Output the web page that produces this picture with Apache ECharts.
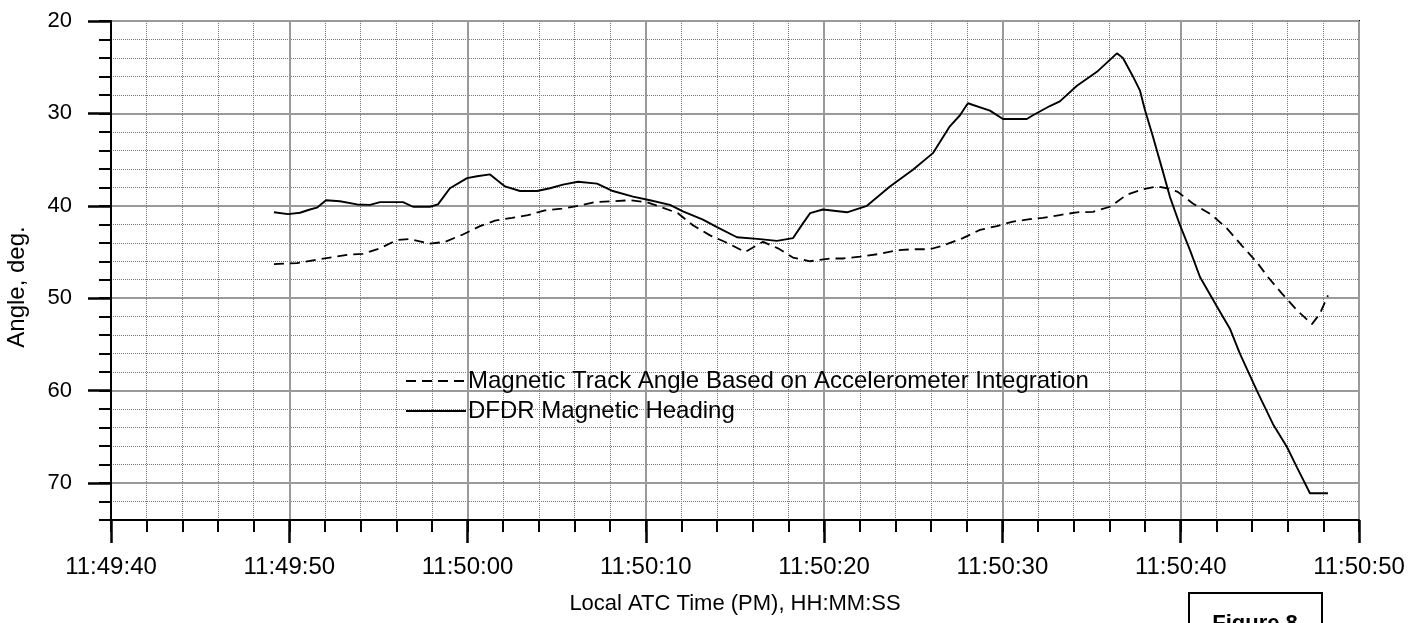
<!DOCTYPE html>
<html>
<head>
<meta charset="utf-8">
<title>Figure 8</title>
<script src="https://cdn.jsdelivr.net/npm/echarts@6/dist/echarts.min.js"></script>
<style>
  html, body { margin: 0; padding: 0; background: #fff; }
  #chart { width: 1426px; height: 623px; }
</style>
</head>
<body>
<div id="chart"></div>
<script>
// Tick labels
const xTickLabels = ['11:49:40', '11:49:50', '11:50:00', '11:50:10', '11:50:20', '11:50:30', '11:50:40', '11:50:50'];
const yTickValues = [20, 30, 40, 50, 60, 70];

const seriesNames = [
  'Magnetic Track Angle Based on Accelerometer Integration',
  'DFDR Magnetic Heading'
];

// Time is seconds after 11:49:40 local ATC time; angles in degrees
const trackTime = [9.14, 10.43, 11.33, 12.28, 13.24, 14.13, 15.09, 16.04, 16.77, 17.89, 18.73, 19.74, 20.7, 21.54,
  22.49, 23.39, 24.34, 25.29, 26.19, 27.15, 28.15, 29.11, 30.06, 30.79, 31.8, 32.64, 33.6, 34.55, 35.56, 36.57,
  37.41, 38.25, 39.21, 40.33, 41.05, 42.01, 43.13, 44.08, 44.98, 45.93, 46.66, 47.78, 48.74, 49.69, 50.59, 51.54,
  52.27, 53.22, 54.18, 55.08, 56.03, 56.98, 57.88, 58.67, 59.23, 59.84, 60.68, 61.75, 62.59, 63.43, 64.27, 64.89,
  65.68, 66.52, 67.36, 67.8, 68.26];
const trackDeg = [46.3, 46.2, 45.9, 45.6, 45.3, 45.2, 44.6, 43.7, 43.6, 44.1, 43.9, 43.1, 42.2, 41.6,
  41.3, 41.0, 40.5, 40.3, 40.0, 39.6, 39.5, 39.4, 39.6, 40.1, 40.8, 42.1, 43.2, 44.0, 45.0, 43.9,
  44.6, 45.6, 46.0, 45.7, 45.7, 45.5, 45.2, 44.8, 44.7, 44.7, 44.3, 43.5, 42.6, 42.2, 41.7, 41.45,
  41.3, 41.0, 40.7, 40.65, 40.1, 38.8, 38.2, 37.9, 38.1, 38.5, 39.75, 41.0, 42.45, 44.3, 46.1, 47.7,
  49.5, 51.3, 52.8, 51.7, 49.7];

const headingTime = [9.14, 9.93, 10.6, 11.16, 11.55, 12.06, 12.84, 13.8, 14.53, 15.09, 16.38, 16.94, 17.89, 18.34,
  19.01, 19.97, 20.53, 21.26, 22.1, 22.94, 23.9, 24.62, 25.35, 26.19, 27.26, 28.15, 29.28, 30.23, 31.35, 32.08,
  33.2, 33.99, 35.11, 36.4, 37.35, 38.25, 38.81, 39.21, 39.93, 41.28, 42.4, 43.69, 44.98, 46.1, 47.05, 47.62,
  48.06, 49.3, 50.03, 51.37, 51.71, 52.66, 53.22, 54.18, 55.3, 56.42, 56.76, 57.32, 57.71, 57.99, 58.44, 59.0,
  59.39, 59.96, 60.52, 61.08, 62.03, 62.76, 63.32, 64.27, 65.17, 65.96, 66.52, 67.25, 68.26];
const headingDeg = [40.7, 40.9, 40.75, 40.4, 40.2, 39.4, 39.5, 39.85, 39.9, 39.6, 39.6, 40.1, 40.1, 39.85,
  38.1, 37.0, 36.8, 36.6, 37.9, 38.4, 38.4, 38.1, 37.7, 37.4, 37.6, 38.4, 39.0, 39.4, 39.9, 40.6,
  41.5, 42.3, 43.4, 43.6, 43.8, 43.5, 41.9, 40.8, 40.4, 40.7, 40.0, 37.9, 36.1, 34.3, 31.4, 30.2,
  28.9, 29.7, 30.6, 30.6, 30.2, 29.2, 28.7, 27.0, 25.5, 23.5, 24.0, 26.0, 27.5, 29.6, 32.5, 36.3,
  39.0, 42.1, 44.8, 47.7, 50.9, 53.3, 56.0, 60.0, 63.6, 66.1, 68.3, 71.1, 71.1];

const FONT = '"Liberation Sans", Arial, Helvetica, sans-serif';
const pairs = (xs, ys) => xs.map((x, i) => [x, ys[i]]);

const chart = echarts.init(document.getElementById('chart'), null, { renderer: 'canvas' });

const minorGrid = { lineStyle: { color: '#777', type: 'dotted', width: 1 } };
const majorGrid = { lineStyle: { color: '#9a9a9a', type: 'solid', width: 2 } };

chart.setOption({
  animation: false,
  backgroundColor: '#fff',
  textStyle: { fontFamily: FONT, color: '#000' },
  grid: {
    left: 111, top: 21, right: 67, bottom: 103,
    show: true, borderColor: '#000', borderWidth: 2, backgroundColor: 'transparent'
  },
  legend: {
    orient: 'vertical',
    left: 405,
    top: 366,
    padding: 0,
    itemWidth: 60,
    itemHeight: 14,
    itemGap: 0,
    selectedMode: false,
    data: seriesNames,
    itemStyle: { opacity: 0, borderWidth: 0 },
    textStyle: { fontFamily: FONT, fontSize: 24, color: '#000', lineHeight: 30, padding: [0, 0, 0, -3] }
  },
  xAxis: [
    {
      type: 'value', position: 'bottom', min: 0, max: 70, interval: 2,
      axisLine: { onZero: false, lineStyle: { color: '#000', width: 2 } },
      axisTick: { show: true, inside: false, length: 12, lineStyle: { color: '#000', width: 2 } },
      axisLabel: { show: false },
      splitLine: Object.assign({ show: true }, minorGrid)
    },
    {
      type: 'value', position: 'bottom', min: 0, max: 70, interval: 10,
      axisLine: { show: false, onZero: false },
      axisTick: { show: true, inside: false, length: 23, lineStyle: { color: '#000', width: 2.5 } },
      axisLabel: {
        margin: 35, fontSize: 24, color: '#000', fontFamily: FONT,
        formatter: v => xTickLabels[Math.round(v / 10)]
      },
      splitLine: Object.assign({ show: true }, majorGrid),
      name: 'Local ATC Time (PM), HH:MM:SS',
      nameLocation: 'middle',
      nameGap: 73,
      nameTextStyle: { fontSize: 22, color: '#000', fontFamily: FONT }
    }
  ],
  yAxis: [
    {
      type: 'value', position: 'left', inverse: true, min: 20, max: 74, interval: 2,
      axisLine: { show: true, onZero: false, lineStyle: { color: '#000', width: 2 } },
      axisTick: { show: true, inside: false, length: 12, lineStyle: { color: '#000', width: 2 } },
      axisLabel: { show: false },
      splitLine: Object.assign({ show: true }, minorGrid)
    },
    {
      type: 'value', position: 'left', inverse: true, min: 20, max: 74, interval: 10,
      axisLine: { show: false, onZero: false },
      axisTick: { show: true, inside: false, length: 23, customValues: yTickValues, lineStyle: { color: '#000', width: 2.5 } },
      axisLabel: {
        margin: 39, fontSize: 22, color: '#000', fontFamily: FONT,
        customValues: yTickValues
      },
      splitLine: Object.assign({ show: true }, majorGrid)
    }
  ],
  graphic: [
    {
      type: 'text', x: 17, y: 287, rotation: Math.PI / 2,
      style: { text: 'Angle, deg.', fontSize: 24, fontFamily: FONT, fill: '#000', align: 'center', verticalAlign: 'middle' }
    },
    {
      type: 'rect', shape: { x: 1189, y: 593, width: 133, height: 60 },
      style: { fill: '#fff', stroke: '#000', lineWidth: 2 }
    },
    {
      type: 'text', x: 1255, y: 624,
      style: { text: 'Figure 8', fontSize: 22, fontWeight: 'bold', fontFamily: FONT, fill: '#000', align: 'center', verticalAlign: 'middle' }
    }
  ],
  series: [
    {
      name: seriesNames[0], type: 'line', xAxisIndex: 0, yAxisIndex: 0,
      data: pairs(trackTime, trackDeg),
      symbol: 'none', smooth: false, z: 5,
      lineStyle: { color: '#000', width: 1.8, type: [10, 6] },
      itemStyle: { color: '#000' }
    },
    {
      name: seriesNames[1], type: 'line', xAxisIndex: 0, yAxisIndex: 0,
      data: pairs(headingTime, headingDeg),
      symbol: 'none', smooth: false, z: 5,
      lineStyle: { color: '#000', width: 1.9, type: 'solid' },
      itemStyle: { color: '#000' }
    }
  ]
});
</script>
</body>
</html>
